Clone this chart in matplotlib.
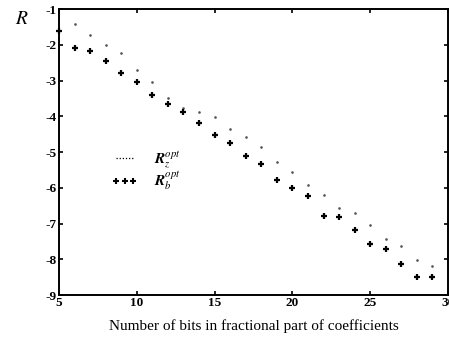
import matplotlib
matplotlib.use("Agg")
import matplotlib.pyplot as plt
from matplotlib.lines import Line2D

plt.rcParams['font.family'] = ['Liberation Serif', 'DejaVu Serif']
plt.rcParams['mathtext.fontset'] = 'stix'
plt.rcParams['axes.unicode_minus'] = False

# R_z^opt (dotted series)
bits_z = [6, 7, 8, 9, 10, 11, 12, 13, 14, 15, 16, 17, 18, 19, 20,
          21, 22, 23, 24, 25, 26, 27, 28, 29]
r_z = [-1.43, -1.72, -2.01, -2.22, -2.70, -3.03, -3.48, -3.76, -3.88, -4.03,
       -4.34, -4.58, -4.87, -5.27, -5.55, -5.92, -6.19, -6.57, -6.69, -7.03,
       -7.42, -7.62, -8.01, -8.18]

# R_b^opt (plus markers)
bits_b = [5, 6, 7, 8, 9, 10, 11, 12, 13, 14, 15, 16, 17, 18, 19, 20,
          21, 22, 23, 24, 25, 26, 27, 28, 29]
r_b = [-1.61, -2.08, -2.17, -2.45, -2.78, -3.05, -3.39, -3.65, -3.88, -4.18,
       -4.51, -4.75, -5.10, -5.33, -5.77, -6.00, -6.24, -6.80, -6.82, -7.17,
       -7.56, -7.70, -8.14, -8.49, -8.49]

xticks = [5, 10, 15, 20, 25, 30]
yticks = [-1, -2, -3, -4, -5, -6, -7, -8, -9]

fig = plt.figure(figsize=(4.49, 3.38), dpi=100)
ax = fig.add_axes([0.1314, 0.127, 0.8664, 0.846])

ax.plot(bits_z, r_z, linestyle='none', marker='.', ms=1.8, color='#555555')
ax.plot(bits_b, r_b, linestyle='none', marker='+', ms=4.5, mew=1.6,
        color='black', clip_on=False)

ax.set_xlim(5, 30)
ax.set_ylim(-9, -1)
ax.set_xticks(xticks)
ax.set_yticks(yticks)
ax.set_xticklabels([str(t) for t in xticks], fontweight='bold', fontsize=9.5)
ax.set_yticklabels([str(t) for t in yticks], fontweight='bold', fontsize=9.5)
ax.tick_params(direction='in', length=3, width=1.2, top=True, right=True,
               pad=1.5)
for s in ax.spines.values():
    s.set_linewidth(1.4)

ax.set_xlabel('Number of bits in fractional part of coefficients',
              fontsize=11, labelpad=7)
ax.set_ylabel('$R$', rotation=0, fontsize=14)
ax.yaxis.set_label_coords(-0.095, 0.935)

handles = [
    Line2D([], [], linestyle=(0, (1, 1.5)), color='black', lw=0.9),
    Line2D([], [], linestyle='none', marker='+', ms=4.2, mew=1.5, color='black'),
]
ax.legend(handles, [r'$\mathbfit{R}_z^{opt}$', r'$\mathbfit{R}_b^{opt}$'],
          loc='upper left', bbox_to_anchor=(0.10, 0.555), frameon=False,
          fontsize=11, numpoints=3, handlelength=1.7, handletextpad=1.1,
          labelspacing=-0.05)

fig.savefig('out.png', dpi=100)
